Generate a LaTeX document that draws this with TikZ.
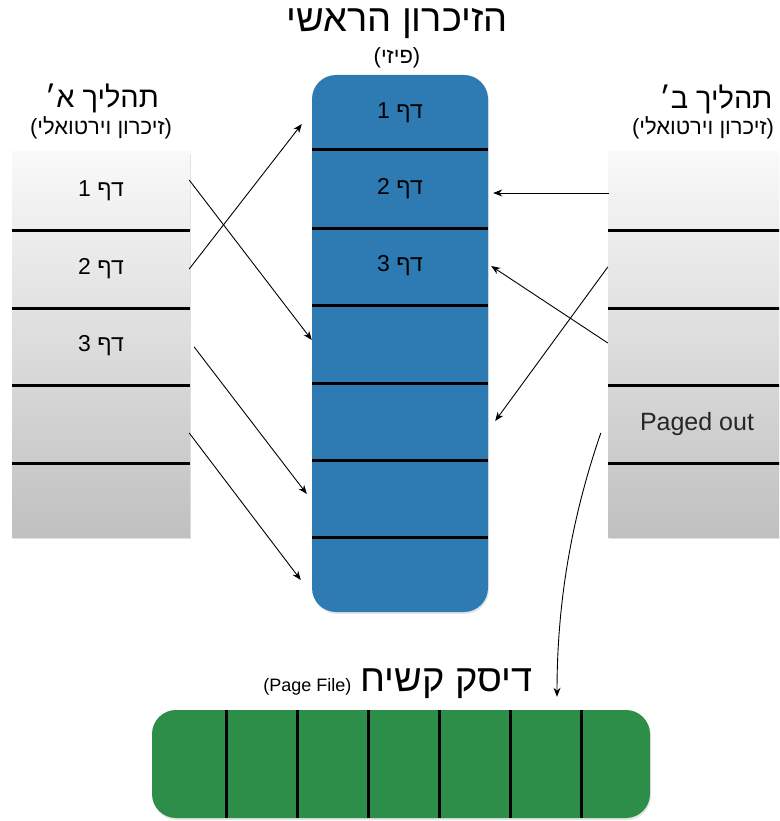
\documentclass[tikz,border=0pt]{standalone}
\usepackage{fontspec}
\setmainfont{Liberation Sans}
\newfontfamily\hebfont[Script=Hebrew]{Liberation Sans}
\TeXXeTstate=1
\usetikzlibrary{arrows.meta,shadows}

\definecolor{ramblue}{RGB}{46,122,178}
\definecolor{diskgreen}{RGB}{44,142,72}
\definecolor{pagetop}{RGB}{249,249,249}
\definecolor{pagebot}{RGB}{192,192,192}

% right-to-left Hebrew text
\newcommand{\heb}[1]{{\hebfont\beginR #1\endR}}
\newcommand{\fsz}[1]{\fontsize{#1}{1.2\dimexpr #1pt\relax}\selectfont}

\tikzset{
  pagecol/.style={top color=pagetop, bottom color=pagebot,
    drop shadow={opacity=0.25, shadow xshift=1pt, shadow yshift=-2pt}},
  cell/.style={minimum width=176pt, minimum height=77pt, inner sep=0pt,
    font=\hebfont\fsz{23}},
  divider/.style={line width=3pt, black},
  link/.style={-{Stealth[length=9pt,width=7pt]}, line width=0.9pt, black},
  bigtitle/.style={inner sep=0pt, font=\hebfont\fsz{38}},
  proctitle/.style={inner sep=0pt, font=\hebfont\fsz{29}},
  subtitle/.style={inner sep=0pt, font=\hebfont\fsz{22}},
}

\begin{document}
\begin{tikzpicture}[x=1pt,y=-1pt]
\useasboundingbox (0,0) rectangle (779,821);
\begin{scope}
\clip (0,0) rectangle (779,821);

% ---------- titles ----------
\node[bigtitle] (ramtitle) at (397,24) {\heb{הזיכרון הראשי}};
\node[subtitle] (ramsub) at (397,58) {\heb{(פיזי)}};
\node[proctitle] (atitle) at (102,98) {\heb{תהליך א׳}};
\node[subtitle] (asub) at (101,128) {\heb{(זיכרון וירטואלי)}};
\node[proctitle] (btitle) at (716,99) {\heb{תהליך ב׳}};
\node[subtitle] (bsub) at (703,128) {\heb{(זיכרון וירטואלי)}};

% ---------- process A (virtual memory) ----------
\path[pagecol] (12,152) rectangle (190,537);
\foreach \yy in {230,308,385,463}
  \draw[divider] (12,\yy) -- (190,\yy);
\node[cell] (a1) at (101,191) {\heb{דף 1}};
\node[cell] (a2) at (101,269) {\heb{דף 2}};
\node[cell] (a3) at (101,346) {\heb{דף 3}};
\node[cell] (a4) at (101,424) {};
\node[cell] (a5) at (101,500) {};

% ---------- main memory (physical) ----------
\path[fill=ramblue, rounded corners=24pt,
  drop shadow={opacity=0.2, shadow xshift=1pt, shadow yshift=-2pt}]
  (312,75) rectangle (488,612);
\foreach \yy in {150,228,305,383,460,537}
  \draw[divider] (312,\yy) -- (488,\yy);
\node[cell] (m1) at (400,113) {\raisebox{-5pt}{\heb{דף 1}}};
\node[cell] (m2) at (400,189) {\raisebox{-3pt}{\heb{דף 2}}};
\node[cell] (m3) at (400,266) {\raisebox{-3pt}{\heb{דף 3}}};
\node[cell] (m4) at (400,344) {};
\node[cell] (m5) at (400,421) {};
\node[cell] (m6) at (400,498) {};
\node[cell] (m7) at (400,575) {};

% ---------- process B (virtual memory) ----------
\path[pagecol] (608,152) rectangle (786,537);
\foreach \yy in {230,308,385,463}
  \draw[divider] (608,\yy) -- (786,\yy);
\node[cell] (b1) at (697,191) {};
\node[cell] (b2) at (697,269) {};
\node[cell] (b3) at (697,346) {};
\node[cell, font=\fsz{25}, text=black!85] (b4) at (697,424) {Paged out};
\node[cell] (b5) at (697,500) {};

% ---------- hard disk (page file) ----------
\node[inner sep=0pt] (disktitle) at (398,684)
  {\heb{{\fsz{38}דיסק קשיח}\kern9pt\beginL{\fsz{18}(Page File)}\endL}};
\node[fill=diskgreen, rounded corners=24pt, minimum width=498pt,
  minimum height=108pt, inner sep=0pt,
  drop shadow={opacity=0.2, shadow xshift=1pt, shadow yshift=-2pt}]
  (disk) at (401,764) {};
\foreach \xx in {226,297,368,439,510,581}
  \draw[divider] (\xx,710) -- (\xx,818);

% ---------- page mappings ----------
\draw[link] ([yshift=11pt]a1.east) -- ([yshift=4pt]m4.west);
\draw[link] (a2.east) -- ([xshift=-10pt,yshift=-11pt]m1.west);
\draw[link] ([xshift=5pt,yshift=-1pt]a3.east) -- ([xshift=-5pt,yshift=4pt]m6.west);
\draw[link] ([yshift=-9pt]a4.east) -- ([xshift=-11pt,yshift=-5pt]m7.west);
\draw[link] ([yshift=-2pt]b1.west) -- ([xshift=5pt,yshift=-4pt]m2.east);
\draw[link] ([xshift=-1pt,yshift=3pt]b3.west) -- ([xshift=3pt]m3.east);
\draw[link] ([xshift=-1pt,yshift=2pt]b2.west) -- ([xshift=7pt]m5.east);
\draw[link] ([xshift=-8pt,yshift=-9pt]b4.west)
  .. controls (576,505) and (557,590) .. ([xshift=156pt,yshift=13pt]disk.north);
\end{scope}
\end{tikzpicture}
\end{document}
